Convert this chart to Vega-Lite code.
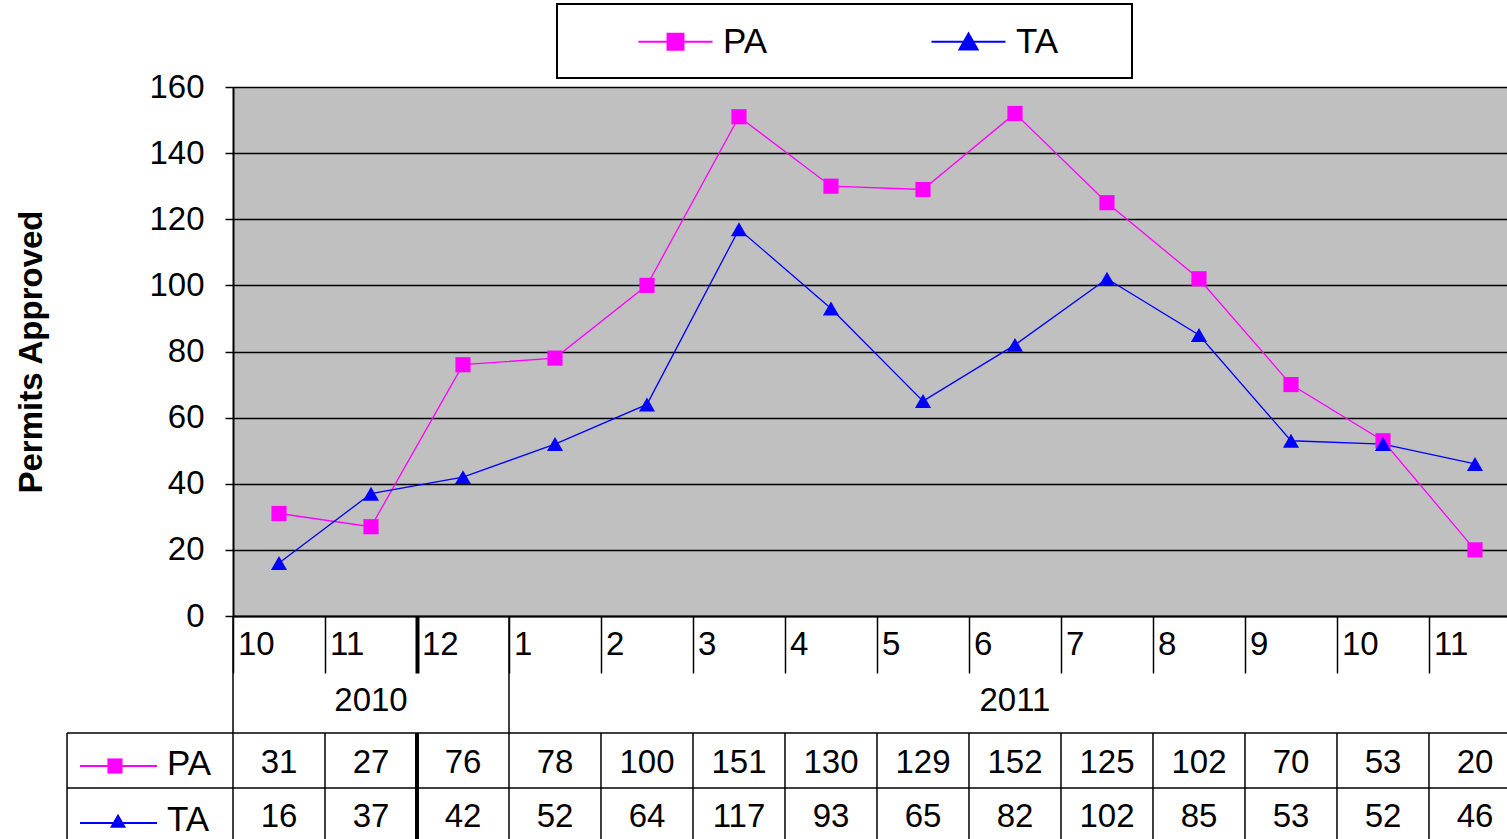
{
  "$schema": "https://vega.github.io/schema/vega-lite/v6.json",
  "width": 1274,
  "height": 529,
  "autosize": {"type": "none"},
  "padding": {"left": 233, "top": 87, "right": 0, "bottom": 223},
  "background": "white",
  "config": {"font": "Liberation Sans", "view": {"fill": "#C0C0C0", "stroke": null}},
  "datasets": {
    "permits": [
      {"idx": 0, "month": "10", "year": "2010", "series": "PA", "value": 31},
      {"idx": 1, "month": "11", "year": "2010", "series": "PA", "value": 27},
      {"idx": 2, "month": "12", "year": "2010", "series": "PA", "value": 76},
      {"idx": 3, "month": "1", "year": "2011", "series": "PA", "value": 78},
      {"idx": 4, "month": "2", "year": "2011", "series": "PA", "value": 100},
      {"idx": 5, "month": "3", "year": "2011", "series": "PA", "value": 151},
      {"idx": 6, "month": "4", "year": "2011", "series": "PA", "value": 130},
      {"idx": 7, "month": "5", "year": "2011", "series": "PA", "value": 129},
      {"idx": 8, "month": "6", "year": "2011", "series": "PA", "value": 152},
      {"idx": 9, "month": "7", "year": "2011", "series": "PA", "value": 125},
      {"idx": 10, "month": "8", "year": "2011", "series": "PA", "value": 102},
      {"idx": 11, "month": "9", "year": "2011", "series": "PA", "value": 70},
      {"idx": 12, "month": "10", "year": "2011", "series": "PA", "value": 53},
      {"idx": 13, "month": "11", "year": "2011", "series": "PA", "value": 20},
      {"idx": 0, "month": "10", "year": "2010", "series": "TA", "value": 16},
      {"idx": 1, "month": "11", "year": "2010", "series": "TA", "value": 37},
      {"idx": 2, "month": "12", "year": "2010", "series": "TA", "value": 42},
      {"idx": 3, "month": "1", "year": "2011", "series": "TA", "value": 52},
      {"idx": 4, "month": "2", "year": "2011", "series": "TA", "value": 64},
      {"idx": 5, "month": "3", "year": "2011", "series": "TA", "value": 117},
      {"idx": 6, "month": "4", "year": "2011", "series": "TA", "value": 93},
      {"idx": 7, "month": "5", "year": "2011", "series": "TA", "value": 65},
      {"idx": 8, "month": "6", "year": "2011", "series": "TA", "value": 82},
      {"idx": 9, "month": "7", "year": "2011", "series": "TA", "value": 102},
      {"idx": 10, "month": "8", "year": "2011", "series": "TA", "value": 85},
      {"idx": 11, "month": "9", "year": "2011", "series": "TA", "value": 53},
      {"idx": 12, "month": "10", "year": "2011", "series": "TA", "value": 52},
      {"idx": 13, "month": "11", "year": "2011", "series": "TA", "value": 46}
    ]
  },
  "data": {"name": "permits"},
  "encoding": {
    "x": {
      "field": "idx", "type": "quantitative", "title": null,
      "scale": {"domain": [-0.5, 13.348], "nice": false, "zero": false},
      "axis": {
        "values": [-0.5, 0.5, 1.5, 2.5, 3.5, 4.5, 5.5, 6.5, 7.5, 8.5, 9.5, 10.5, 11.5, 12.5],
        "labels": false, "title": null, "grid": false,
        "domainColor": "black", "domainWidth": 2,
        "tickColor": "black", "tickSize": 57,
        "tickWidth": {"condition": {"test": "datum.value == 1.5", "value": 4}, "value": 1.5}
      }
    },
    "color": {
      "field": "series", "type": "nominal",
      "scale": {"domain": ["PA", "TA"], "range": ["#FF00FF", "#0000FF"]},
      "legend": {
        "orient": "none", "legendX": 324, "legendY": -83,
        "direction": "horizontal", "columns": 2, "title": null,
        "padding": 18, "strokeColor": "black", "fillColor": "white",
        "symbolSize": 1369, "symbolStrokeWidth": 2, "symbolOffset": 81,
        "labelOffset": 28, "columnPadding": 96,
        "labelFontSize": 35, "labelColor": "black", "labelLimit": 400,
        "encode": {
          "legend": {"update": {"strokeWidth": {"value": 2}}},
          "symbols": {
            "update": {
              "shape": {"signal": "datum.value === 'PA' ? 'M-5.4,0M-2,0H2M-0.43,-0.43H0.43V0.43H-0.43Z' : 'M-5.4,0M7.6,0M-2,0H2M0,-0.45L0.49,0.42H-0.49Z'"},
              "fill": {"signal": "datum.value === 'PA' ? '#FF00FF' : '#0000FF'"},
              "stroke": {"signal": "datum.value === 'PA' ? '#FF00FF' : '#0000FF'"},
              "strokeWidth": {"value": 2},
              "opacity": {"value": 1},
              "size": {"value": 1369}
            }
          }
        }
      }
    }
  },
  "layer": [
    {
      "mark": {"type": "line", "strokeWidth": 1.3},
      "encoding": {
        "y": {
          "field": "value", "type": "quantitative", "title": "Permits Approved",
          "scale": {"domain": [0, 160], "nice": false},
          "axis": {
            "values": [0, 20, 40, 60, 80, 100, 120, 140, 160],
            "title": "Permits Approved", "titleFontSize": 33, "titleFontWeight": "bold",
            "titleColor": "black", "titlePadding": 100,
            "grid": true, "gridColor": "black", "gridWidth": 1.5, "gridOpacity": 1,
            "domainColor": "black", "domainWidth": 2,
            "tickColor": "black", "tickSize": 8, "tickWidth": 1.5,
            "labelFontSize": 33, "labelColor": "black", "labelPadding": 21
          }
        }
      }
    },
    {
      "transform": [{"filter": "datum.series == 'PA'"}],
      "mark": {"type": "point", "shape": "square", "filled": true, "opacity": 1, "size": 230},
      "encoding": {
        "y": {"field": "value", "type": "quantitative", "title": "Permits Approved"}
      }
    },
    {
      "transform": [{"filter": "datum.series == 'TA'"}],
      "mark": {"type": "point", "shape": "triangle-up", "filled": true, "opacity": 1, "size": 260},
      "encoding": {
        "y": {"field": "value", "type": "quantitative", "title": "Permits Approved"}
      }
    },
    {
      "transform": [{"filter": "datum.series == 'PA'"}],
      "mark": {"type": "text", "align": "left", "baseline": "middle", "fontSize": 33, "xOffset": -41},
      "encoding": {
        "y": {"datum": -8.77, "title": "Permits Approved"},
        "text": {"field": "month", "type": "nominal"},
        "color": {"value": "black"}
      }
    },
    {
      "transform": [{"filter": "datum.series == 'PA'"}],
      "mark": {"type": "text", "align": "center", "baseline": "middle", "fontSize": 33},
      "encoding": {
        "x": {"aggregate": "mean", "field": "idx", "type": "quantitative", "title": null},
        "y": {"datum": -25.71, "title": "Permits Approved"},
        "text": {"field": "year", "type": "nominal"},
        "color": {"value": "black"}
      }
    },
    {
      "transform": [{"filter": "datum.series == 'PA'"}],
      "mark": {"type": "rule", "strokeWidth": 1.5, "xOffset": -46},
      "encoding": {
        "x": {"aggregate": "min", "field": "idx", "type": "quantitative", "title": null},
        "y": {"datum": 0, "title": "Permits Approved"},
        "y2": {"datum": -35.39},
        "detail": {"field": "year", "type": "nominal"},
        "color": {"value": "black"}
      }
    },
    {
      "transform": [{"filter": "datum.series == 'PA'"}],
      "mark": {"type": "rule", "xOffset": -46},
      "encoding": {
        "y": {"datum": -35.39, "title": "Permits Approved"},
        "y2": {"datum": -70},
        "color": {"value": "black"},
        "strokeWidth": {"condition": {"test": "datum.idx == 2", "value": 4}, "value": 1.5}
      }
    },
    {
      "transform": [{"filter": "datum.series == 'PA' && datum.idx == 0"}],
      "mark": {"type": "rule", "strokeWidth": 1.5},
      "encoding": {
        "x": {"datum": -2.304, "title": null},
        "y": {"datum": -35.39, "title": "Permits Approved"},
        "y2": {"datum": -70},
        "color": {"value": "black"}
      }
    },
    {
      "transform": [{"filter": "datum.series == 'PA' && datum.idx == 0"}],
      "mark": {"type": "rule", "strokeWidth": 1.5},
      "encoding": {
        "x": {"datum": -2.304, "title": null},
        "x2": {"datum": 13.348},
        "y": {"datum": -35.39, "title": "Permits Approved"},
        "color": {"value": "black"}
      }
    },
    {
      "transform": [{"filter": "datum.series == 'PA' && datum.idx == 0"}],
      "mark": {"type": "rule", "strokeWidth": 1.5},
      "encoding": {
        "x": {"datum": -2.304, "title": null},
        "x2": {"datum": 13.348},
        "y": {"datum": -52.02, "title": "Permits Approved"},
        "color": {"value": "black"}
      }
    },
    {
      "transform": [{"filter": "datum.series == 'PA'"}],
      "mark": {"type": "text", "align": "center", "baseline": "middle", "fontSize": 33},
      "encoding": {
        "y": {"datum": -44.42, "title": "Permits Approved"},
        "text": {"field": "value", "type": "quantitative"},
        "color": {"value": "black"}
      }
    },
    {
      "transform": [{"filter": "datum.series == 'TA'"}],
      "mark": {"type": "text", "align": "center", "baseline": "middle", "fontSize": 33},
      "encoding": {
        "y": {"datum": -60.79, "title": "Permits Approved"},
        "text": {"field": "value", "type": "quantitative"},
        "color": {"value": "black"}
      }
    },
    {
      "transform": [{"filter": "datum.series == 'PA' && datum.idx == 0"}],
      "mark": {"type": "rule", "strokeWidth": 2},
      "encoding": {
        "x": {"datum": -2.163, "title": null},
        "x2": {"datum": -1.326},
        "y": {"datum": -45.37, "title": "Permits Approved"}
      }
    },
    {
      "transform": [{"filter": "datum.series == 'PA' && datum.idx == 0"}],
      "mark": {"type": "point", "shape": "square", "filled": true, "opacity": 1, "size": 230},
      "encoding": {
        "x": {"datum": -1.783, "title": null},
        "y": {"datum": -45.37, "title": "Permits Approved"}
      }
    },
    {
      "transform": [{"filter": "datum.series == 'PA' && datum.idx == 0"}],
      "mark": {"type": "text", "align": "left", "baseline": "middle", "fontSize": 35},
      "encoding": {
        "x": {"datum": -1.217, "title": null},
        "y": {"datum": -44.76, "title": "Permits Approved"},
        "text": {"field": "series", "type": "nominal"},
        "color": {"value": "black"}
      }
    },
    {
      "transform": [{"filter": "datum.series == 'TA' && datum.idx == 0"}],
      "mark": {"type": "rule", "strokeWidth": 2},
      "encoding": {
        "x": {"datum": -2.163, "title": null},
        "x2": {"datum": -1.326},
        "y": {"datum": -62.61, "title": "Permits Approved"}
      }
    },
    {
      "transform": [{"filter": "datum.series == 'TA' && datum.idx == 0"}],
      "mark": {"type": "point", "shape": "triangle-up", "filled": true, "opacity": 1, "size": 260},
      "encoding": {
        "x": {"datum": -1.75, "title": null},
        "y": {"datum": -61.9, "title": "Permits Approved"}
      }
    },
    {
      "transform": [{"filter": "datum.series == 'TA' && datum.idx == 0"}],
      "mark": {"type": "text", "align": "left", "baseline": "middle", "fontSize": 35},
      "encoding": {
        "x": {"datum": -1.217, "title": null},
        "y": {"datum": -61.7, "title": "Permits Approved"},
        "text": {"field": "series", "type": "nominal"},
        "color": {"value": "black"}
      }
    }
  ]
}
